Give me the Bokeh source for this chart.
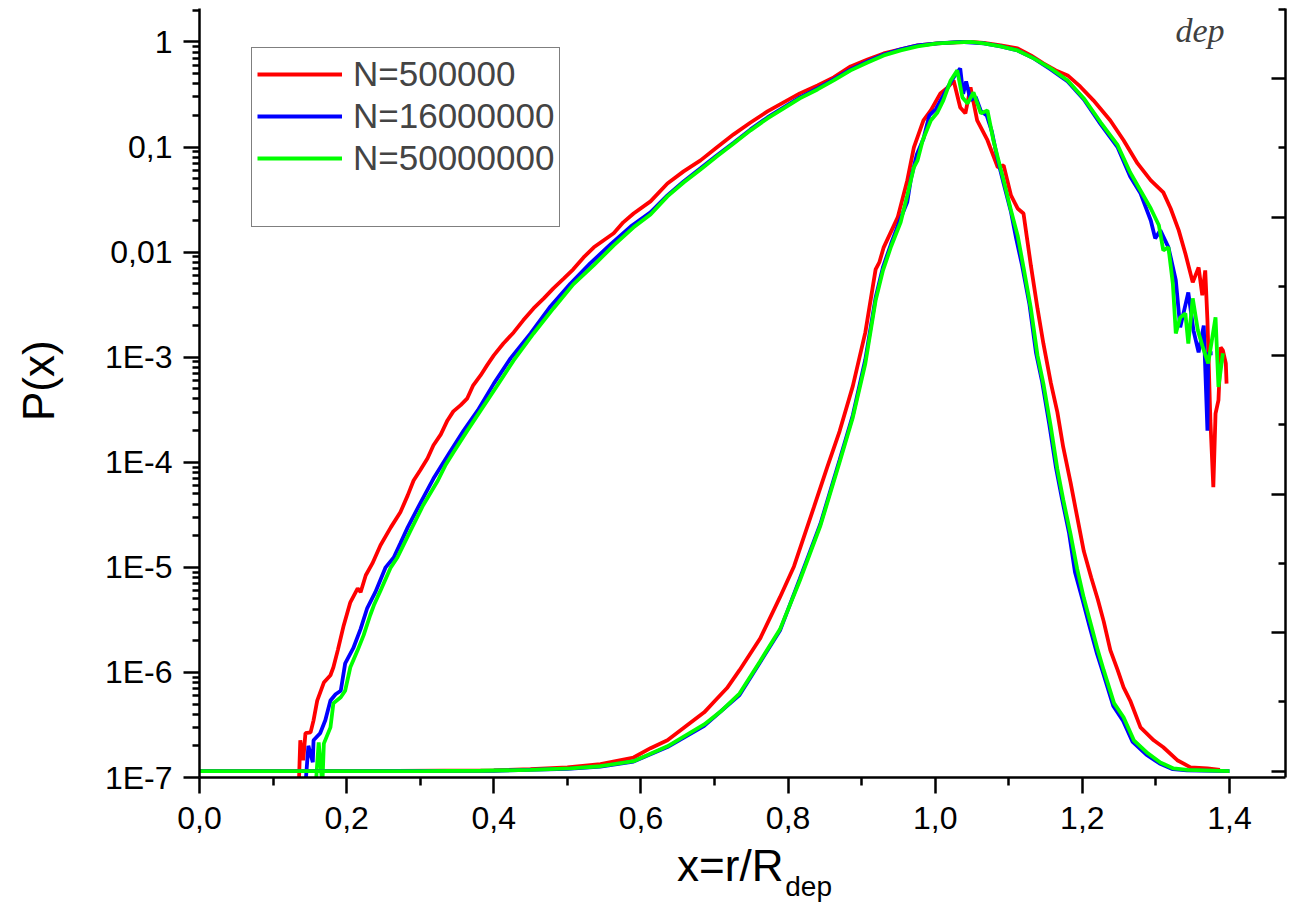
from bokeh.plotting import figure
from bokeh.models import (LinearAxis, LinearScale, FixedTicker, CustomJSTickFormatter, Range1d,
                          Legend, LegendItem, Label)
from bokeh.embed import file_html
from bokeh.resources import INLINE

# ---------------- data (x = r/R_dep, P(x)) ----------------
series_labels = ["N=500000", "N=16000000", "N=50000000"]
series_colors = ["#ff0000", "#0000ff", "#00ff00"]

# broad distribution
wide_500k = [
    (0.135, 8.5e-8), (0.137, 2.26e-7), (0.141, 1.46e-7), (0.144, 2.64e-7), (0.151, 2.69e-7),
    (0.155, 3.5e-7), (0.160, 5.4e-7), (0.169, 8.0e-7), (0.178, 9.4e-7), (0.182, 1.12e-6),
    (0.188, 1.63e-6), (0.196, 2.8e-6), (0.205, 4.65e-6), (0.215, 6.3e-6), (0.219, 5.8e-6),
    (0.226, 8.4e-6), (0.235, 1.09e-5), (0.246, 1.62e-5), (0.260, 2.4e-5), (0.273, 3.34e-5),
    (0.283, 4.84e-5), (0.291, 6.7e-5), (0.300, 8.4e-5), (0.310, 1.09e-4), (0.318, 1.45e-4),
    (0.328, 1.84e-4), (0.337, 2.5e-4), (0.345, 3.05e-4), (0.355, 3.5e-4), (0.364, 4.06e-4),
    (0.372, 5.4e-4), (0.382, 6.7e-4), (0.391, 8.4e-4), (0.400, 1.04e-3), (0.413, 1.35e-3),
    (0.427, 1.72e-3), (0.440, 2.24e-3), (0.454, 2.91e-3), (0.468, 3.63e-3), (0.481, 4.52e-3),
    (0.495, 5.6e-3), (0.508, 6.85e-3), (0.522, 8.9e-3), (0.536, 0.0111), (0.549, 0.0129),
    (0.563, 0.0151), (0.576, 0.0192), (0.590, 0.0233), (0.613, 0.0304), (0.636, 0.045),
    (0.658, 0.0586), (0.681, 0.0746), (0.703, 0.099), (0.726, 0.132), (0.749, 0.171),
    (0.772, 0.218), (0.794, 0.266), (0.816, 0.324), (0.840, 0.386), (0.862, 0.46),
    (0.885, 0.585), (0.908, 0.68), (0.930, 0.777), (0.953, 0.85), (0.976, 0.926),
    (1.003, 0.967), (1.030, 0.99), (1.048, 1.0), (1.066, 0.98), (1.089, 0.926),
    (1.112, 0.867), (1.130, 0.744), (1.147, 0.624), (1.164, 0.536), (1.180, 0.48),
    (1.197, 0.377), (1.215, 0.278), (1.238, 0.179), (1.256, 0.116), (1.275, 0.0698),
    (1.293, 0.0481), (1.310, 0.037), (1.320, 0.026), (1.331, 0.0161), (1.340, 0.0097),
    (1.350, 0.00515), (1.358, 0.00715), (1.363, 0.00388), (1.367, 0.0067), (1.370, 0.00224),
    (1.374, 2.5e-4), (1.378, 5.8e-5), (1.381, 2.9e-4), (1.385, 3.9e-4), (1.388, 1.24e-3),
    (1.391, 1.16e-3), (1.395, 8.7e-4), (1.396, 5.6e-4),
]
wide_16M = [
    (0.144, 8.5e-8), (0.148, 2.0e-7), (0.154, 1.4e-7), (0.155, 2.26e-7), (0.164, 2.64e-7),
    (0.171, 3.5e-7), (0.178, 5.4e-7), (0.185, 6.2e-7), (0.192, 6.7e-7), (0.198, 1.22e-6),
    (0.209, 1.7e-6), (0.219, 2.6e-6), (0.228, 4.1e-6), (0.239, 5.8e-6), (0.253, 1.0e-5),
    (0.264, 1.24e-5), (0.273, 1.69e-5), (0.283, 2.4e-5), (0.300, 4.07e-5), (0.318, 7.0e-5),
    (0.340, 1.24e-4), (0.359, 2.0e-4), (0.378, 3.1e-4), (0.400, 5.6e-4), (0.423, 9.8e-4),
    (0.450, 1.68e-3), (0.477, 3.04e-3), (0.504, 5.0e-3), (0.531, 7.8e-3), (0.559, 0.0119),
    (0.586, 0.0175), (0.613, 0.0239), (0.636, 0.0346), (0.658, 0.047), (0.681, 0.0627),
    (0.703, 0.0832), (0.726, 0.11), (0.749, 0.147), (0.772, 0.191), (0.794, 0.238),
    (0.816, 0.296), (0.840, 0.361), (0.862, 0.44), (0.885, 0.547), (0.908, 0.652),
    (0.930, 0.76), (0.953, 0.85), (0.976, 0.926), (1.003, 0.967), (1.034, 1.0),
    (1.066, 0.967), (1.089, 0.906), (1.112, 0.83), (1.134, 0.697), (1.157, 0.547),
    (1.180, 0.421), (1.202, 0.284), (1.225, 0.164), (1.248, 0.099), (1.265, 0.0525),
    (1.279, 0.0362), (1.293, 0.02), (1.299, 0.0135), (1.306, 0.0161), (1.317, 0.0111),
    (1.327, 5.4e-3), (1.333, 1.92e-3), (1.344, 4.13e-3), (1.351, 1.8e-3), (1.358, 1.11e-3),
    (1.365, 2.0e-3), (1.370, 2.0e-4), (1.371, 1.09e-3), (1.377, 1.09e-3),
]
wide_50M = [
    (0.158, 8.5e-8), (0.162, 2.16e-7), (0.167, 8.5e-8), (0.169, 2.1e-7), (0.178, 3.0e-7),
    (0.182, 5.1e-7), (0.192, 5.8e-7), (0.198, 6.7e-7), (0.205, 1.12e-6), (0.215, 1.63e-6),
    (0.223, 2.25e-6), (0.232, 3.5e-6), (0.237, 4.35e-6), (0.246, 6.0e-6), (0.260, 1.0e-5),
    (0.269, 1.24e-5), (0.277, 1.62e-5), (0.287, 2.25e-5), (0.304, 3.9e-5), (0.324, 6.7e-5),
    (0.334, 9.3e-5), (0.345, 1.24e-4), (0.364, 2.0e-4), (0.382, 3.1e-4), (0.405, 5.4e-4),
    (0.427, 9.3e-4), (0.454, 1.68e-3), (0.481, 2.91e-3), (0.508, 4.93e-3), (0.536, 7.5e-3),
    (0.563, 0.0116), (0.590, 0.0172), (0.613, 0.0228), (0.636, 0.0339), (0.658, 0.046),
    (0.681, 0.0612), (0.703, 0.0814), (0.726, 0.108), (0.749, 0.144), (0.772, 0.187),
    (0.794, 0.233), (0.816, 0.29), (0.840, 0.353), (0.862, 0.43), (0.885, 0.536),
    (0.908, 0.638), (0.930, 0.744), (0.953, 0.83), (0.976, 0.906), (1.003, 0.967),
    (1.030, 0.99), (1.048, 1.0), (1.066, 0.967), (1.089, 0.906), (1.112, 0.83),
    (1.134, 0.697), (1.157, 0.56), (1.180, 0.43), (1.202, 0.29), (1.225, 0.171),
    (1.248, 0.104), (1.265, 0.0573), (1.279, 0.0386), (1.293, 0.026), (1.304, 0.018),
    (1.310, 0.0104), (1.317, 0.0111), (1.323, 5.0e-3), (1.327, 1.68e-3), (1.333, 2.39e-3),
    (1.340, 2.61e-3), (1.344, 1.35e-3), (1.350, 3.63e-3), (1.357, 1.8e-3), (1.363, 1.29e-3),
    (1.371, 8.7e-4), (1.381, 2.39e-3), (1.385, 5.2e-4), (1.391, 1.09e-3),
]

# narrow distribution (with its floor level from x = 0)
narrow_500k = [
    (0.0, 1.15e-7), (0.2, 1.15e-7), (0.4, 1.17e-7), (0.45, 1.2e-7), (0.5, 1.25e-7),
    (0.545, 1.34e-7), (0.59, 1.55e-7), (0.613, 1.9e-7), (0.636, 2.26e-7), (0.661, 3.07e-7),
    (0.686, 4.17e-7), (0.701, 5.4e-7), (0.717, 7.1e-7), (0.734, 1.05e-6), (0.762, 2.1e-6),
    (0.789, 5.2e-6), (0.808, 1.02e-5), (0.835, 3.72e-5), (0.853, 8.9e-5), (0.870, 1.97e-4),
    (0.888, 5.3e-4), (0.905, 1.72e-3), (0.919, 6.85e-3), (0.924, 7.97e-3), (0.93, 0.0111),
    (0.949, 0.0214), (0.962, 0.0481), (0.971, 0.099), (0.984, 0.179), (0.994, 0.223),
    (1.007, 0.324), (1.017, 0.369), (1.025, 0.43), (1.034, 0.238), (1.041, 0.209),
    (1.048, 0.369), (1.057, 0.179), (1.071, 0.116), (1.085, 0.064), (1.093, 0.0668),
    (1.103, 0.0346), (1.112, 0.026), (1.12, 0.0233), (1.125, 0.0132), (1.13, 7.47e-3),
    (1.139, 2.91e-3), (1.147, 1.35e-3), (1.157, 5.75e-4), (1.166, 3.0e-4), (1.174, 1.39e-4),
    (1.184, 6.4e-5), (1.193, 3.0e-5), (1.202, 1.42e-5), (1.212, 8.0e-6), (1.221, 4.95e-6),
    (1.229, 3.06e-6), (1.238, 1.63e-6), (1.248, 1.05e-6), (1.256, 7.2e-7), (1.265, 5.4e-7),
    (1.279, 3.0e-7), (1.297, 2.26e-7), (1.31, 1.94e-7), (1.329, 1.46e-7), (1.347, 1.25e-7),
    (1.37, 1.22e-7), (1.387, 1.18e-7),
]
narrow_16M = [
    (0.0, 1.15e-7), (0.2, 1.15e-7), (0.4, 1.16e-7), (0.5, 1.21e-7), (0.545, 1.27e-7),
    (0.59, 1.42e-7), (0.636, 1.95e-7), (0.686, 3.1e-7), (0.734, 6.1e-7), (0.762, 1.25e-6),
    (0.789, 2.5e-6), (0.816, 7.8e-6), (0.844, 2.6e-5), (0.870, 1.05e-4), (0.888, 2.8e-4),
    (0.905, 9.5e-4), (0.919, 3.7e-3), (0.929, 7.2e-3), (0.94, 0.012), (0.953, 0.021),
    (0.962, 0.03), (0.967, 0.05), (0.975, 0.085), (0.984, 0.12), (0.992, 0.2),
    (1.001, 0.23), (1.01, 0.3), (1.018, 0.38), (1.026, 0.47), (1.034, 0.56),
    (1.038, 0.32), (1.042, 0.42), (1.048, 0.28), (1.055, 0.3), (1.062, 0.22),
    (1.07, 0.2), (1.077, 0.14), (1.085, 0.075), (1.093, 0.045), (1.103, 0.024),
    (1.11, 0.0135), (1.118, 0.0075), (1.128, 0.0032), (1.137, 1.1e-3), (1.145, 6.0e-4),
    (1.155, 2.3e-4), (1.164, 9.0e-5), (1.172, 4.6e-5), (1.182, 2.1e-5), (1.19, 9.0e-6),
    (1.2, 5.0e-6), (1.21, 2.7e-6), (1.22, 1.5e-6), (1.228, 1.0e-6), (1.242, 4.8e-7),
    (1.255, 3.5e-7), (1.268, 2.2e-7), (1.287, 1.65e-7), (1.305, 1.36e-7), (1.323, 1.2e-7),
    (1.342, 1.17e-7), (1.4, 1.15e-7),
]
narrow_50M = [
    (0.0, 1.15e-7), (0.1, 1.15e-7), (0.2, 1.15e-7), (0.3, 1.15e-7), (0.382, 1.16e-7),
    (0.45, 1.18e-7), (0.504, 1.22e-7), (0.545, 1.28e-7), (0.59, 1.43e-7), (0.636, 1.98e-7),
    (0.686, 3.2e-7), (0.710, 4.35e-7), (0.734, 6.3e-7), (0.762, 1.28e-6), (0.789, 2.57e-6),
    (0.816, 7.5e-6), (0.844, 2.5e-5), (0.870, 1.0e-4), (0.888, 2.67e-4), (0.905, 8.7e-4),
    (0.919, 3.47e-3), (0.929, 6.7e-3), (0.94, 0.0113), (0.953, 0.0192), (0.962, 0.0346),
    (0.971, 0.064), (0.976, 0.0746), (0.983, 0.116), (0.994, 0.179), (1.003, 0.213),
    (1.011, 0.278), (1.021, 0.43), (1.03, 0.536), (1.037, 0.296), (1.044, 0.26),
    (1.052, 0.331), (1.062, 0.209), (1.071, 0.223), (1.079, 0.116), (1.093, 0.0481),
    (1.103, 0.0249), (1.112, 0.0144), (1.12, 7.15e-3), (1.13, 2.91e-3), (1.139, 1.04e-3),
    (1.147, 5.6e-4), (1.157, 2.2e-4), (1.166, 8.6e-5), (1.174, 4.4e-5), (1.184, 2.06e-5),
    (1.193, 9.6e-6), (1.202, 5.1e-6), (1.212, 2.8e-6), (1.221, 1.62e-6), (1.229, 1.05e-6),
    (1.243, 5.1e-7), (1.256, 3.74e-7), (1.27, 2.26e-7), (1.289, 1.7e-7), (1.306, 1.39e-7),
    (1.324, 1.22e-7), (1.343, 1.18e-7), (1.4, 1.15e-7),
]

x_major_ticks = [0.0, 0.2, 0.4, 0.6, 0.8, 1.0, 1.2, 1.4]
x_minor_ticks = [0.1, 0.3, 0.5, 0.7, 0.9, 1.1, 1.3]
y_major_ticks = [1e-7, 1e-6, 1e-5, 1e-4, 1e-3, 1e-2, 1e-1, 1.0]
right_major_ticks = [0, 1, 2, 3, 4, 5]
right_minor_ticks = [0.5, 1.5, 2.5, 3.5, 4.5, 5.5]

NBSP = "\u00a0"
x_title = "x=r/R" + NBSP * 2
x_title_sub = NBSP * 17 + "dep"
y_title = NBSP * 2 + "P(x)"

# ---------------- figure ----------------
FONT = "Liberation Sans"

p = figure(width=1287, height=904,
           x_range=Range1d(0, 1.4761), y_range=Range1d(1e-7, 2.08),
           y_axis_type="log", output_backend="svg", toolbar_location=None,
           min_border_left=199, min_border_right=2, min_border_top=8,
           min_border_bottom=126)
p.outline_line_color = None
p.xgrid.visible = False
p.ygrid.visible = False
p.background_fill_color = "white"
p.border_fill_color = "white"

ax_b = p.below[0]
ax_l = p.left[0]

ax_b.ticker = FixedTicker(ticks=x_major_ticks, minor_ticks=x_minor_ticks)
ax_b.formatter = CustomJSTickFormatter(code="return tick.toFixed(1).replace('.', ',');")

y_minor = []
for e in range(-7, 1):
    for k in range(2, 10):
        y_minor.append(k * 10.0 ** e)
ax_l.ticker = FixedTicker(ticks=y_major_ticks, minor_ticks=y_minor)
ax_l.formatter = CustomJSTickFormatter(code="""
const e = Math.round(Math.log10(tick));
if (e === 0) { return "1"; }
if (e === -1) { return "0,1"; }
if (e === -2) { return "0,01"; }
return "1E" + e;
""")

for ax in (ax_b, ax_l):
    ax.axis_line_width = 2.5
    ax.axis_line_color = "black"
    ax.major_tick_line_width = 2.5
    ax.minor_tick_line_width = 2.5
    ax.major_tick_line_color = "black"
    ax.minor_tick_line_color = "black"
    ax.major_tick_in = 0
    ax.minor_tick_in = 0
    ax.major_label_text_font = FONT
    ax.major_label_text_font_size = "32px"
    ax.major_label_text_color = "black"
    ax.axis_label_text_font = FONT
    ax.axis_label_text_font_style = "normal"
    ax.axis_label_text_color = "black"
    ax.axis_label_text_font_size = "44px"

ax_b.major_label_standoff = 13
ax_l.major_label_standoff = 11
ax_b.major_tick_out = 16
ax_b.minor_tick_out = 8
ax_l.major_tick_out = 16
ax_l.minor_tick_out = 7

ax_l.axis_label = y_title
ax_l.axis_label_standoff = 39
ax_b.axis_label = x_title
ax_b.axis_label_standoff = 9

# subscript of the x title, as a label-only axis under the main one
ax_sub = LinearAxis(ticker=FixedTicker(ticks=[]), axis_line_color=None,
                    major_tick_out=0, major_tick_in=0, minor_tick_out=0, minor_tick_in=0,
                    major_label_standoff=0, major_label_text_font_size="0px",
                    axis_label=x_title_sub, axis_label_standoff=-22,
                    axis_label_text_font=FONT, axis_label_text_font_style="normal",
                    axis_label_text_font_size="28px", axis_label_text_color="black")
p.add_layout(ax_sub, "below")

p.extra_y_ranges = {"r": Range1d(-0.045, 5.506)}
p.extra_y_scales = {"r": LinearScale()}
ax_r = LinearAxis(y_range_name="r",
                  ticker=FixedTicker(ticks=right_major_ticks, minor_ticks=right_minor_ticks),
                  formatter=CustomJSTickFormatter(code="return '';"),
                  major_tick_in=14, major_tick_out=0, minor_tick_in=7, minor_tick_out=0,
                  major_label_text_font_size="0px", major_label_standoff=0,
                  axis_line_width=2.5, major_tick_line_width=2.5, minor_tick_line_width=2.5)
p.add_layout(ax_r, "right")

# ---------------- curves ----------------
def xs(pts):
    return [a for a, b in pts]

def ys(pts):
    return [b for a, b in pts]

wide = [wide_500k, wide_16M, wide_50M]
narrow = [narrow_500k, narrow_16M, narrow_50M]

wide_renderers = []
for pts, col in zip(wide, series_colors):
    wide_renderers.append(p.line(xs(pts), ys(pts), line_color=col, line_width=3.8))
for pts, col in zip(narrow, series_colors):
    p.line(xs(pts), ys(pts), line_color=col, line_width=3.8)

dummy = p.line([], [], line_alpha=0)

items = [LegendItem(label=lab, renderers=[r]) for lab, r in zip(series_labels, wide_renderers)]
items.append(LegendItem(label=" ", renderers=[dummy]))
legend = Legend(items=items, location=(52, 550),
                label_text_font=FONT, label_text_font_size="35px",
                glyph_height=42, label_height=42, glyph_width=85, label_standoff=11,
                spacing=0, padding=5, margin=0,
                border_line_color="black", border_line_width=1.5,
                background_fill_color="white", background_fill_alpha=1.0)
p.add_layout(legend)

# symbol at the top right of the plot
p.add_layout(Label(x=1.3266, y=1.285, text="dep", text_font="Liberation Serif",
                   text_font_style="italic", text_font_size="34px", text_color="#404040",
                   text_align="left", text_baseline="alphabetic"))

open("out.html", "w").write(file_html(p, INLINE))
